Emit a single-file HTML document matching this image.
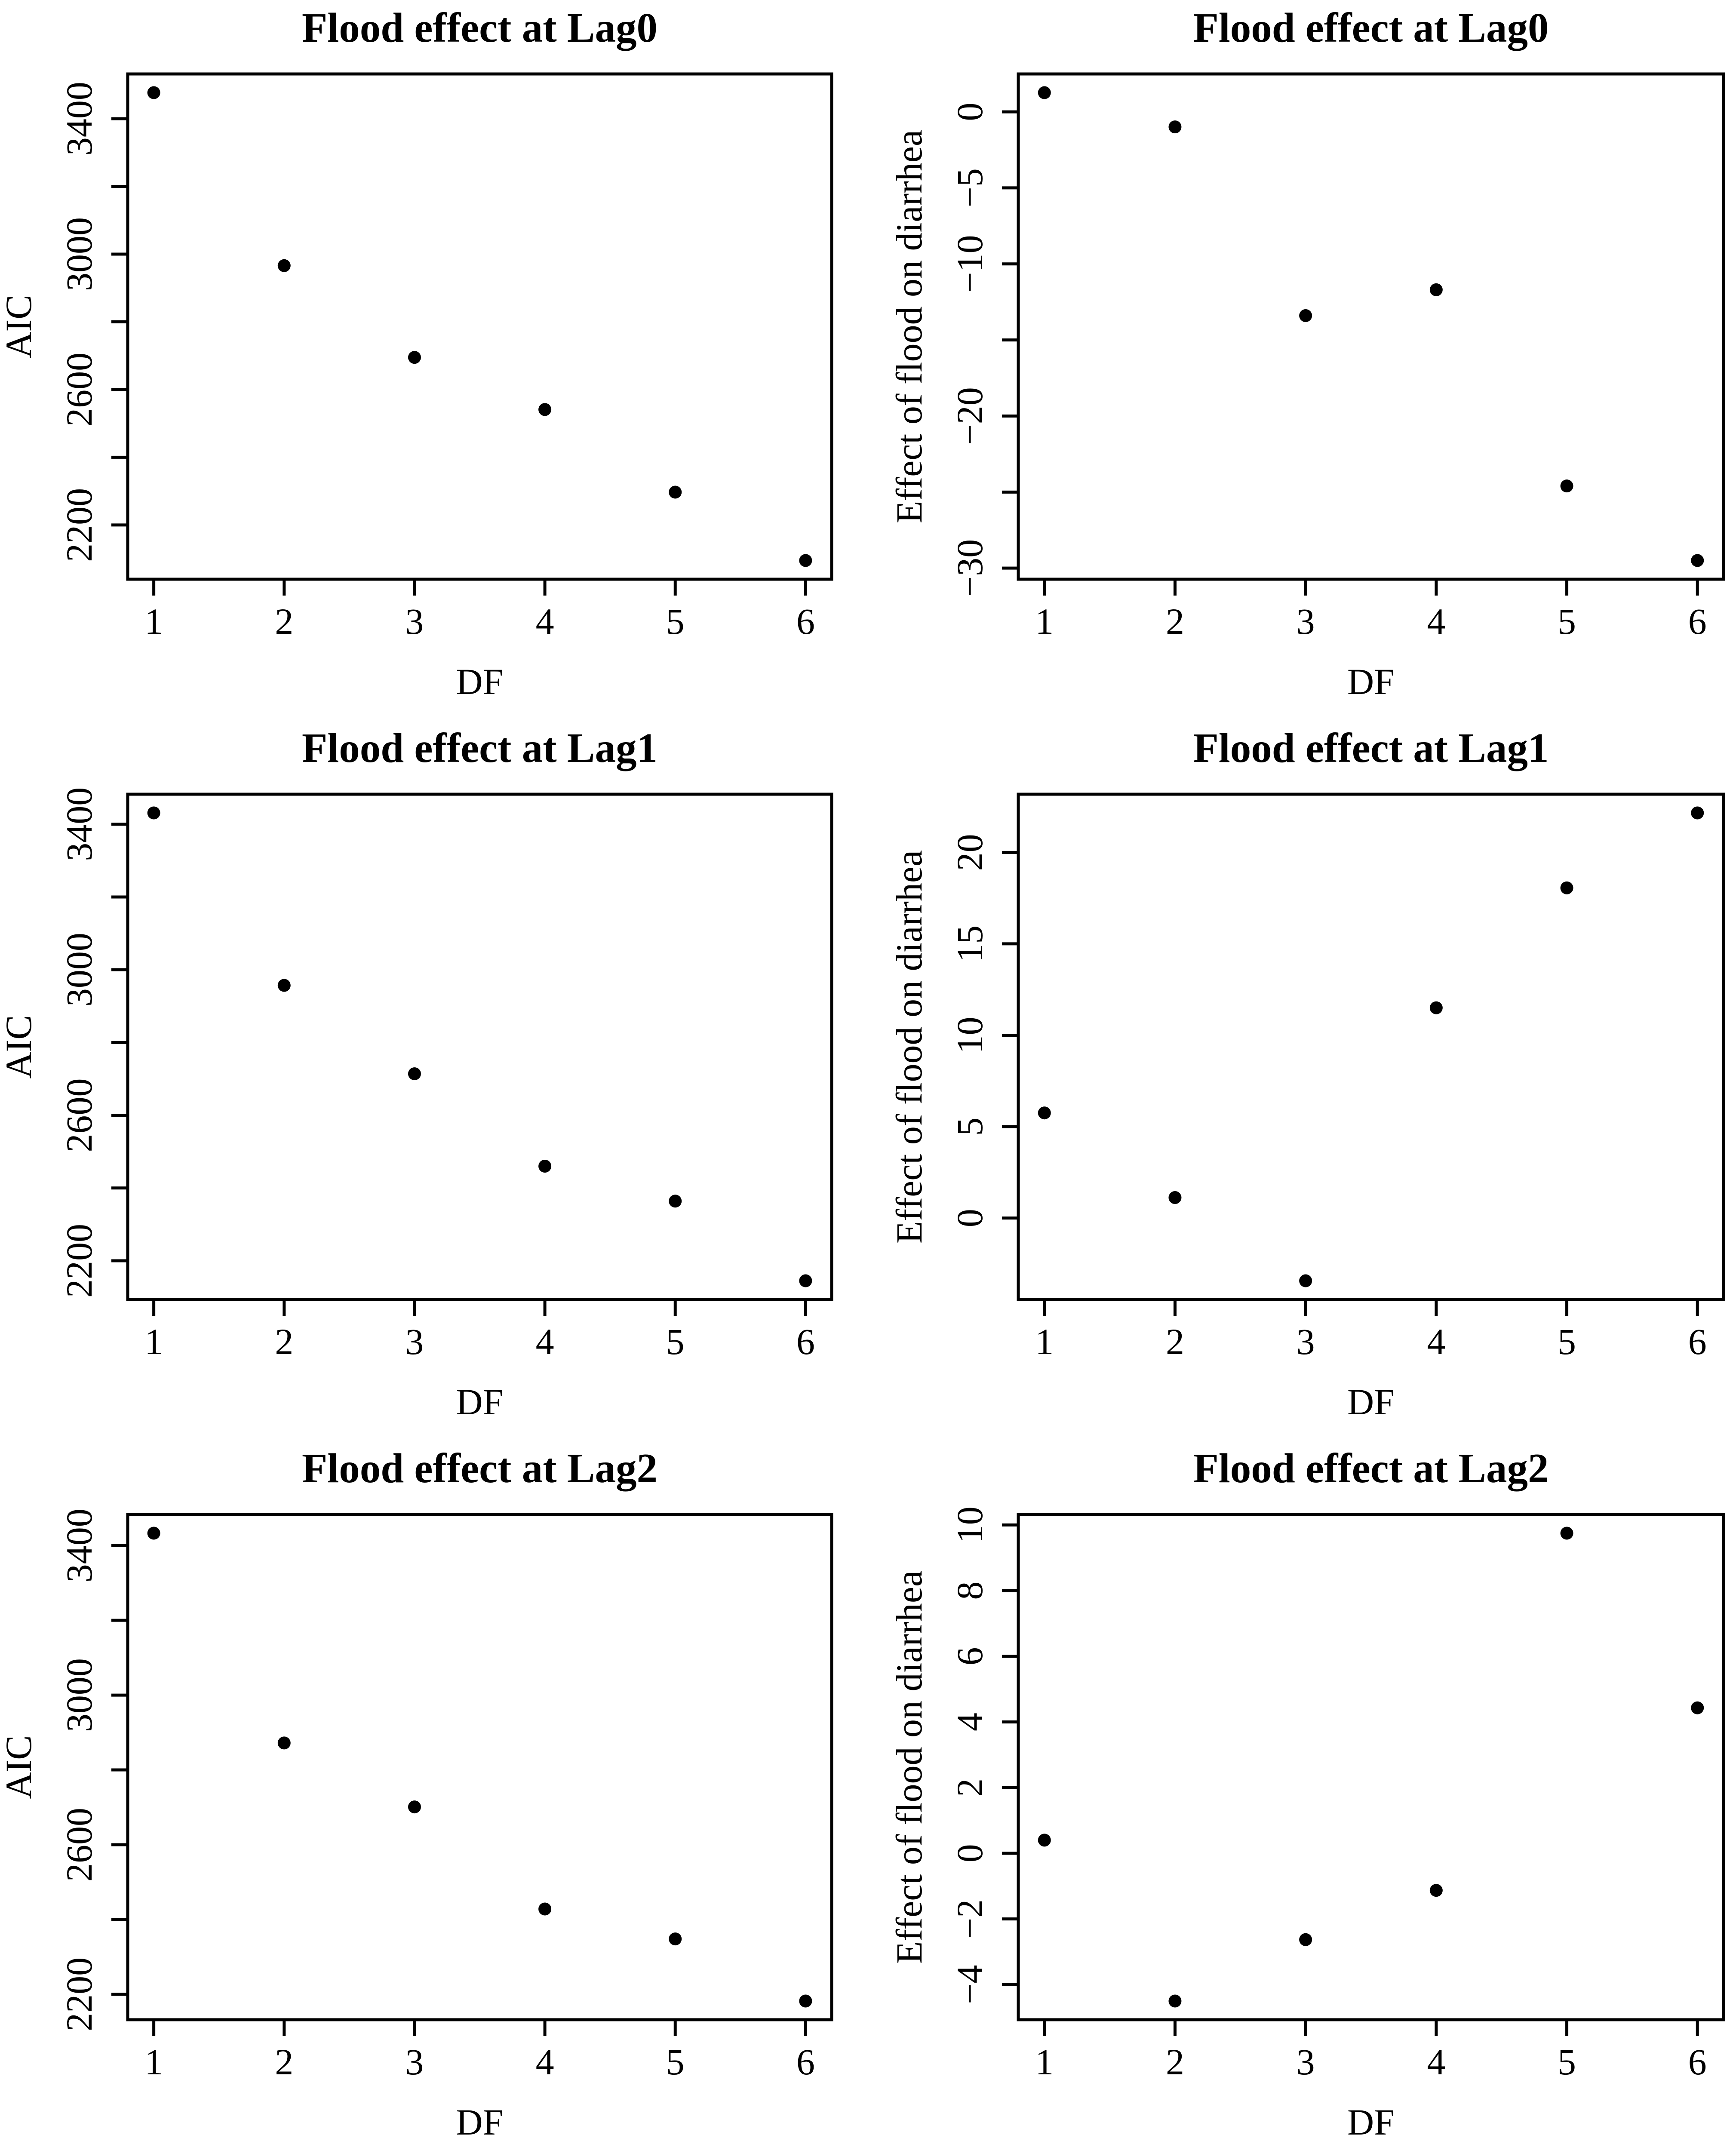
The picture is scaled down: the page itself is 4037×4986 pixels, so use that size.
<!DOCTYPE html>
<html>
<head>
<meta charset="utf-8">
<style>
html,body{margin:0;padding:0;background:#fff;}
svg{display:block;}
text{font-family:"Liberation Serif","Times New Roman",serif;fill:#000;}
</style>
</head>
<body>
<svg id="fig" xmlns="http://www.w3.org/2000/svg" width="4037" height="4986" viewBox="0 0 4037 4986"></svg>
<script>
// ---- data ----
const dfValues = [1, 2, 3, 4, 5, 6];
const panelTitles = ["Flood effect at Lag0", "Flood effect at Lag1", "Flood effect at Lag2"];
const aicLag0 = [3477, 2966, 2695, 2541, 2297, 2095];
const aicLag1 = [3431, 2957, 2714, 2460, 2364, 2145];
const aicLag2 = [3433, 2872, 2701, 2428, 2348, 2182];
const effectLag0 = [1.26, -0.99, -13.4, -11.7, -24.6, -29.5];
const effectLag1 = [5.75, 1.12, -3.43, 11.5, 18.06, 22.16];
const effectLag2 = [0.40, -4.5, -2.63, -1.13, 9.75, 4.43];
const aicTicks = [2200, 2400, 2600, 2800, 3000, 3200, 3400];
const aicTickLabels = ["2200", "", "2600", "", "3000", "", "3400"];
const effectTicksLag0 = [-30, -25, -20, -15, -10, -5, 0];
const effectTickLabelsLag0 = ["\u221230", "", "\u221220", "", "\u221210", "\u22125", "0"];
const effectTicksLag1 = [0, 5, 10, 15, 20];
const effectTicksLag2 = [-4, -2, 0, 2, 4, 6, 8, 10];

// ---- layout ----
const NS = "http://www.w3.org/2000/svg";
const svg = document.getElementById("fig");
const colLeft = [297, 2368];
const colRight = [1934, 4008];
const rowTop = [172, 1847, 3522];
const boxH = 1175;

function mk(tag, attrs, parent) {
  const e = document.createElementNS(NS, tag);
  for (const k in attrs) e.setAttribute(k, attrs[k]);
  (parent || svg).appendChild(e);
  return e;
}

function panel(col, row, title, ylab, yvals, yticks, ylabels, name) {
  const L = colLeft[col], R = colRight[col], T = rowTop[row], B = T + boxH;
  const g = mk("g", {});
  
  
  const xmin = Math.min(...dfValues), xmax = Math.max(...dfValues);
  const xp = (xmax - xmin) * 0.04;
  const x0 = xmin - xp, x1 = xmax + xp;
  const sx = v => L + (v - x0) / (x1 - x0) * (R - L);
  const ymin = Math.min(...yvals), ymax = Math.max(...yvals);
  const yp = (ymax - ymin) * 0.04;
  const y0 = ymin - yp, y1 = ymax + yp;
  const sy = v => B - (v - y0) / (y1 - y0) * (B - T);

  const t = mk("text", {x: (L + R) / 2, y: T - 75, "text-anchor": "middle", "font-size": 97, "font-weight": "bold"}, g);
  t.textContent = title;
  
  

  const box = mk("rect", {x: L, y: T, width: R - L, height: B - T, fill: "none", stroke: "#000", "stroke-width": 7}, g);
  
  

  dfValues.forEach(v => {
    const x = sx(v);
    const tk = mk("line", {x1: x, y1: B, x2: x, y2: B + 38, stroke: "#000", "stroke-width": 7}, g);
    
    
    const lb = mk("text", {x: x, y: B + 127, "text-anchor": "middle", "font-size": 86}, g);
    lb.textContent = String(v);
    
    
  });
  const xl = mk("text", {x: (L + R) / 2, y: B + 267, "text-anchor": "middle", "font-size": 86}, g);
  xl.textContent = "DF";
  
  

  yticks.forEach((v, i) => {
    const y = sy(v);
    const tk = mk("line", {x1: L, y1: y, x2: L - 38, y2: y, stroke: "#000", "stroke-width": 7}, g);
    
    
    const s = ylabels ? ylabels[i] : String(v).replace("-", "\u2212");
    if (s) {
      const lb = mk("text", {x: 0, y: 0, "text-anchor": "middle", "font-size": 86,
        transform: "translate(" + (L - 84) + "," + y + ") rotate(-90)"}, g);
      lb.textContent = s;
      
      
    }
  });
  const yl = mk("text", {x: 0, y: 0, "text-anchor": "middle", "font-size": 86,
    transform: "translate(" + (L - 225) + "," + ((T + B) / 2) + ") rotate(-90)"}, g);
  yl.textContent = ylab;
  
  

  yvals.forEach((v, i) => {
    const c = mk("circle", {cx: sx(dfValues[i]), cy: sy(v), r: 15, fill: "#000"}, g);
    
    
  });
}

const eff = "Effect of flood on diarrhea";
panel(0, 0, panelTitles[0], "AIC", aicLag0, aicTicks, aicTickLabels, "aic-lag0-panel");
panel(1, 0, panelTitles[0], eff, effectLag0, effectTicksLag0, effectTickLabelsLag0, "effect-lag0-panel");
panel(0, 1, panelTitles[1], "AIC", aicLag1, aicTicks, aicTickLabels, "aic-lag1-panel");
panel(1, 1, panelTitles[1], eff, effectLag1, effectTicksLag1, null, "effect-lag1-panel");
panel(0, 2, panelTitles[2], "AIC", aicLag2, aicTicks, aicTickLabels, "aic-lag2-panel");
panel(1, 2, panelTitles[2], eff, effectLag2, effectTicksLag2, null, "effect-lag2-panel");
</script>
</body>
</html>
